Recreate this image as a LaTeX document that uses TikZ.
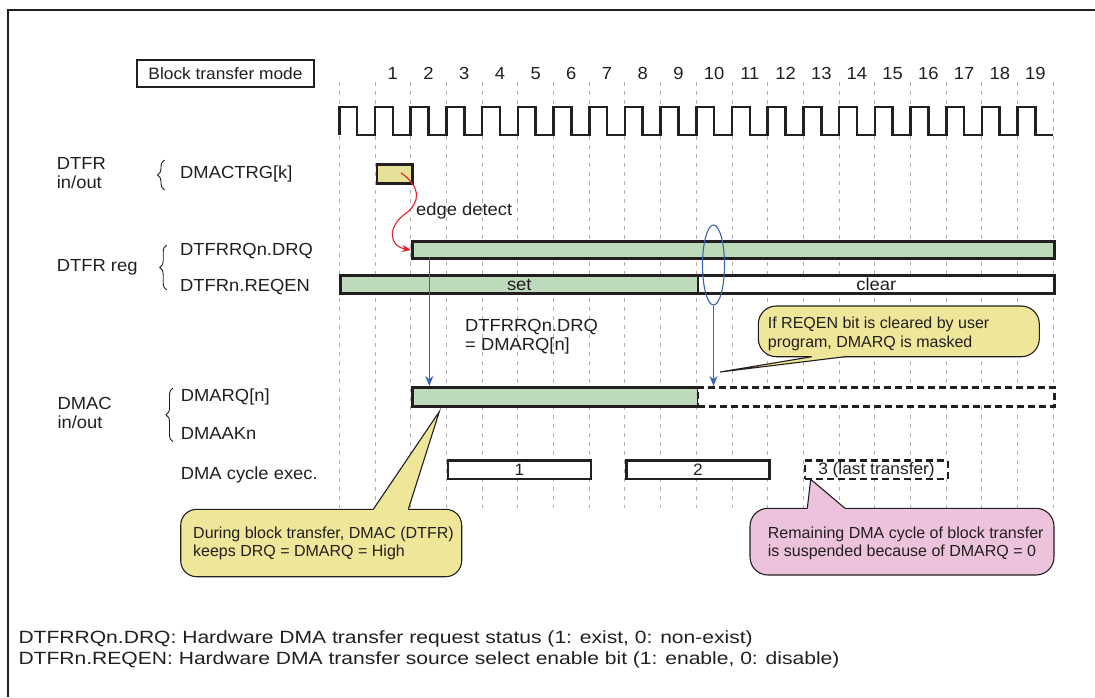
\documentclass[tikz,border=0pt]{standalone}
\usepackage{fontspec}
\setmainfont{Liberation Sans}
\newfontfamily\labfont[FakeStretch=1.05]{Liberation Sans}
\newfontfamily\widefont[FakeStretch=1.19]{Liberation Sans}
\usetikzlibrary{decorations.pathreplacing,arrows.meta,shapes.geometric}
\definecolor{ink}{RGB}{35,31,32}
\definecolor{gfill}{RGB}{189,218,187}
\definecolor{yfill}{RGB}{230,224,152}
\definecolor{cyel}{RGB}{238,230,152}
\definecolor{cpink}{RGB}{236,194,220}
\definecolor{bl}{RGB}{55,100,180}
\definecolor{gridc}{RGB}{175,175,175}
\definecolor{redarr}{RGB}{232,30,40}
\begin{document}
\begin{tikzpicture}[x=1pt,y=-1pt,
  lbl/.style={font=\labfont\fontsize{17.5}{21}\selectfont, text=ink, inner sep=0pt, anchor=base west},
  num/.style={font=\labfont\fontsize{17.5}{21}\selectfont, text=ink, inner sep=0pt, anchor=base},
  ctext/.style={font=\fontsize{16}{19}\selectfont, text=ink, inner sep=0pt, anchor=base west},
  deftext/.style={font=\widefont\fontsize{17.7}{21}\selectfont, text=ink, inner sep=0pt, anchor=base west},
  bar/.style={draw=ink, line width=2.6pt, inner sep=0pt, anchor=north west, text=ink,
              font=\labfont\fontsize{17.5}{21}\selectfont},
  dbar/.style={bar, dash pattern=on 7pt off 4pt},
  cyc/.style={bar, font=\labfont\fontsize{16.5}{19}\selectfont},
  gridline/.style={draw=gridc, line width=0.9pt, dash pattern=on 4pt off 5pt},
  clock/.style={draw=ink, line width=2.6pt},
  brc/.style={draw=ink, line width=0.9pt, decorate, decoration={brace, amplitude=7pt}},
  blarrow/.style={draw=bl, line width=1.2pt, -{Stealth[length=10pt, width=8pt]}},
  cbox/.style={draw=ink, line width=1.1pt},
  cline/.style={draw=ink, line width=1.1pt, line join=miter}
]
\useasboundingbox (0,0) rectangle (1095,697);
% frame
\draw[ink, line width=2pt] (8,697) -- (8,10) -- (1095,10);

% grid
\foreach \i in {0,...,20}
  \draw[gridline] ({339.3+35.7*\i},82) -- ({339.3+35.7*\i},508);

% title box
\node[draw=ink, line width=1.8pt, minimum width=177pt, minimum height=27pt, inner sep=0pt,
      font=\labfont\fontsize{16.5}{20}\selectfont, text=ink] (mode) at (225.5,73.5) {Block transfer mode};

% cycle numbers
\foreach \k in {1,...,19}
  \node[num] (n\k) at ({339.3+35.7*\k+17.85},79.3) {\k};

% clock
\draw[clock] (339.3,135) \foreach \i in {1,...,20} { -- ++(0,-28) -- ++(17.85,0) -- ++(0,28) -- ++(17.85,0) };

% left labels
\node[lbl] (dtfrio1) at (56.7,169.3) {DTFR};
\node[lbl] (dtfrio2) at (56.7,188.3) {in/out};
\node[lbl] (trglbl) at (180,178.5) {DMACTRG[k]};
\node[lbl] (dtfrreg) at (56.7,271.7) {DTFR reg};
\node[lbl] (drqlbl) at (180,255) {DTFRRQn.DRQ};
\node[lbl] (reqenlbl) at (180,291.2) {DTFRn.REQEN};
\node[lbl] (dmac1) at (57.3,409.3) {DMAC};
\node[lbl] (dmac2) at (57.3,428.3) {in/out};
\node[lbl] (dmarqlbl) at (180.7,401.7) {DMARQ[n]};
\node[lbl] (dmaaklbl) at (180.7,439) {DMAAKn};
\node[lbl] (cyclbl) at (180.7,479) {DMA cycle exec.};

% braces
\draw[brc] (164.5,190) -- (164.5,160);
\draw[brc] (166.7,290) -- (166.7,245);
\draw[brc] (173,441.7) -- (173,388);

% bars
\node[bar, fill=yfill, minimum width=35.7pt, minimum height=18.7pt] (trg) at (375.7,163.3) {};
\node[bar, fill=gfill, minimum width=642.3pt, minimum height=17.3pt] (drq) at (411,240) {};
\node[bar, fill=gfill, minimum width=357.4pt, minimum height=18.3pt] (set) at (339.3,274) {set};
\node[bar, fill=white, minimum width=356.6pt, minimum height=18.3pt] (clear) at (696.7,274) {clear};
\node[bar, fill=gfill, minimum width=285.7pt, minimum height=19pt] (dmarq) at (411,386) {};
\node[dbar, fill=white, minimum width=356.6pt, minimum height=19pt] (dmarqx) at (696.7,386) {};
\node[cyc, fill=white, minimum width=142.8pt, minimum height=18.4pt] (cyc1) at (446.7,459.3) {1};
\node[cyc, fill=white, minimum width=142.8pt, minimum height=18.4pt] (cyc2) at (625.3,459.3) {2};
\node[cyc, dash pattern=on 7pt off 4pt, fill=white, minimum width=142.8pt, minimum height=18.4pt] (cyc3) at (803.8,459.3) {3 (last transfer)};

% edge detect
\coordinate (eds) at (401,172.7);
\draw[redarr, line width=1.1pt, -{Stealth[length=9pt, width=7pt]}]
  (eds) .. controls (422,188) and (420,203) .. (405,214)
        .. controls (388,226) and (388,246) .. (drq.west);
\node[lbl] (edge) at (416,215) {edge detect};

% middle text
\node[lbl] (eq1) at (465,331.7) {DTFRRQn.DRQ};
\node[lbl] (eq2) at (465,350.5) {= DMARQ[n]};

% blue arrows
\coordinate (a1) at (429.3,257.3);
\draw[blarrow] (a1) -- (a1 |- dmarq.north);
\node[draw=bl, line width=1.1pt, ellipse, minimum width=22pt, minimum height=80pt, inner sep=0pt] (ell) at (713.5,265) {};
\draw[blarrow] (ell.south) -- (ell.south |- dmarqx.north);

% right yellow callout
\draw[cbox, fill=cyel, rounded corners=18pt] (758.3,306) rectangle (1039.3,356.7);
\coordinate (tipB) at (720,372);
\fill[cyel] (811.7,356.7) -- (tipB) -- (845,356.7) -- (845,353) -- (811.7,353) -- cycle;
\draw[cline] (811.7,356.7) -- (tipB) -- (845,356.7);
\node[ctext] (cb1) at (767.7,328.3) {If REQEN bit is cleared by user};
\node[ctext] (cb2) at (767.7,347.3) {program, DMARQ is masked};

% left yellow callout
\draw[cbox, fill=cyel, rounded corners=16pt] (180.7,509.3) rectangle (461.7,576.7);
\coordinate (tipA) at (439.3,411.7);
\fill[cyel] (373.3,509.3) -- (tipA) -- (408.3,509.3) -- (408.3,513) -- (373.3,513) -- cycle;
\draw[cline] (373.3,509.3) -- (tipA) -- (408.3,509.3);
\node[ctext] (ca1) at (193,538.5) {During block transfer, DMAC (DTFR)};
\node[ctext] (ca2) at (193,556.7) {keeps DRQ = DMARQ = High};

% pink callout
\draw[cbox, fill=cpink, rounded corners=18pt] (750,508.3) rectangle (1054,575);
\coordinate (tipC) at (810.7,479.3);
\fill[cpink] (807.3,508.3) -- (tipC) -- (845,508.3) -- (845,512) -- (807.3,512) -- cycle;
\draw[cline] (807.3,508.3) -- (tipC) -- (845,508.3);
\node[ctext] (cc1) at (767.7,538.3) {Remaining DMA cycle of block transfer};
\node[ctext] (cc2) at (767.7,556.7) {is suspended because of DMARQ = 0};

% definitions
\node[deftext] (def1) at (18.3,643) {DTFRRQn.DRQ: Hardware DMA transfer request status (1: exist, 0: non-exist)};
\node[deftext] (def2) at (18.3,664) {DTFRn.REQEN: Hardware DMA transfer source select enable bit (1: enable, 0: disable)};
\end{tikzpicture}
\end{document}
